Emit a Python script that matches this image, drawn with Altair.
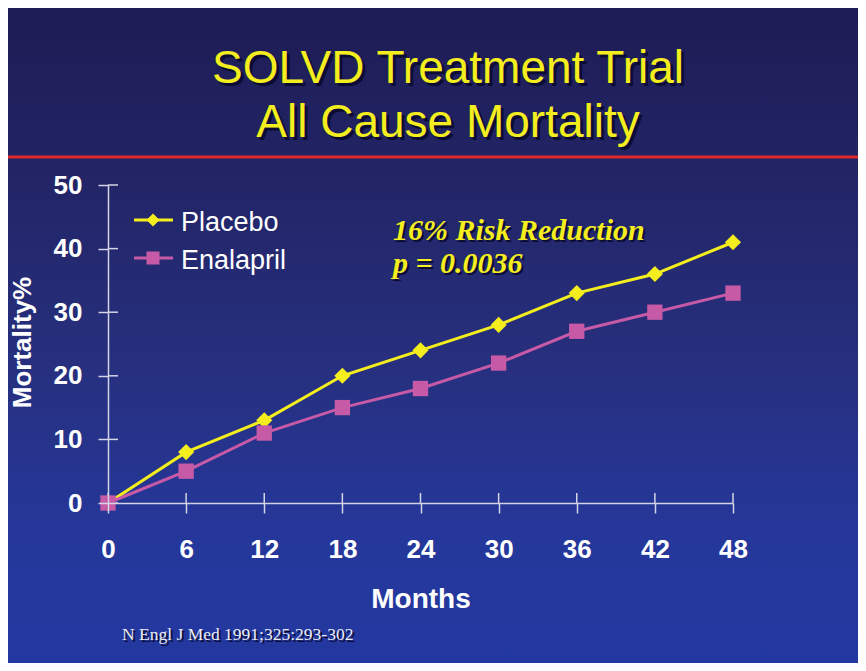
import altair as alt
import pandas as pd

# ---- data ----
months = [0, 6, 12, 18, 24, 30, 36, 42, 48]
placebo = [0, 8, 13, 20, 24, 28, 33, 36, 41]
enalapril = [0, 5, 11, 15, 18, 22, 27, 30, 33]
series = ["Placebo", "Enalapril"]
series_colors = ["#f4ee1e", "#c65aa6"]
series_shapes = ["diamond", "square"]
y_ticks = [0, 10, 20, 30, 40, 50]
title_lines = ["SOLVD Treatment Trial", "All Cause Mortality"]
note_lines = ["16% Risk Reduction", "p = 0.0036"]
citation = "N Engl J Med 1991;325:293-302"

# ---- layout ----
W, H = 625, 318
PL, PT, PR, PB = 100, 177, 125, 160
AXIS_COL = "#d4d4e4"
YELLOW = "#f4ee1e"
SHADOW = "#0c0c32"

df = pd.DataFrame({
    "Months": months * 2,
    "Mortality": placebo + enalapril,
    "Series": [series[0]] * len(months) + [series[1]] * len(months),
})
one = pd.DataFrame({"k": [0]})

xs = alt.Scale(domain=[0, 48], nice=False, zero=False)
ys = alt.Scale(domain=[0, 50], nice=False)

bg = alt.Chart(one).mark_rect(
    fill=alt.LinearGradient(
        gradient="linear", x1=0, y1=0, x2=0, y2=1,
        stops=[
            alt.GradientStop(offset=0.0, color="#1e1c55"),
            alt.GradientStop(offset=0.25, color="#222465"),
            alt.GradientStop(offset=0.55, color="#27307f"),
            alt.GradientStop(offset=0.8, color="#25379a"),
            alt.GradientStop(offset=1.0, color="#2338a0"),
        ],
    ),
    strokeWidth=0,
).encode(x=alt.value(-PL), x2=alt.value(W + PR), y=alt.value(-PT), y2=alt.value(H + PB))

red_rule = alt.Chart(one).mark_rule(color="#e02828", strokeWidth=3).encode(
    x=alt.value(-PL), x2=alt.value(W + PR), y=alt.value(-28)
)


def text_layer(txt, x, y, size, font, color, weight="normal", style="normal",
               align="left", shadow=True, off=2):
    layers = []
    kw = dict(font=font, fontSize=size, fontWeight=weight, fontStyle=style,
              align=align, baseline="alphabetic")
    if shadow:
        layers.append(alt.Chart(one).mark_text(color=SHADOW, **kw).encode(
            x=alt.value(x + off), y=alt.value(y + off), text=alt.value(txt)))
    layers.append(alt.Chart(one).mark_text(color=color, **kw).encode(
        x=alt.value(x), y=alt.value(y), text=alt.value(txt)))
    return layers


texts = []
texts += text_layer(title_lines[0], 340, -102, 46, "Liberation Sans", YELLOW, align="center", off=3)
texts += text_layer(title_lines[1], 340, -48, 46, "Liberation Sans", YELLOW, align="center", off=3)
texts += text_layer(note_lines[0], 285, 55, 30, "Liberation Serif", YELLOW, weight="bold", style="italic")
texts += text_layer(note_lines[1], 285, 88, 30, "Liberation Serif", YELLOW, weight="bold", style="italic")
texts += text_layer(citation, 14, 455, 17.5, "Liberation Serif", "#ececf4")

x_axis = alt.Axis(
    values=months, title="Months", grid=False, zindex=1,
    labelFont="Liberation Sans", labelFontSize=26, labelFontWeight="bold", labelColor="white",
    labelBaseline="alphabetic", labelPadding=44, labelFlush=False, labelOverlap=False,
    tickColor=AXIS_COL, tickSize=10, tickWidth=1.5,
    domainColor=AXIS_COL, domainWidth=1.5,
    titleFont="Liberation Sans", titleFontSize=28, titleFontWeight="bold", titleColor="white",
    titleBaseline="alphabetic", titleY=104, titleX=W / 2, titleAlign="center",
)
y_axis = alt.Axis(
    values=y_ticks, title="Mortality%", grid=False, zindex=1,
    labelFont="Liberation Sans", labelFontSize=26, labelFontWeight="bold", labelColor="white",
    labelPadding=16, labelFlush=False, labelOverlap=False, labelBaseline="middle",
    tickColor=AXIS_COL, tickSize=10, tickWidth=1.5,
    domainColor=AXIS_COL, domainWidth=1.5,
    titleFont="Liberation Sans", titleFontSize=26, titleFontWeight="bold", titleColor="white",
    titleAngle=270, titleBaseline="middle", titleAlign="center", titleX=-86, titleY=157,
)

color_enc = alt.Color("Series:N", scale=alt.Scale(domain=series, range=series_colors), legend=None)

lines = alt.Chart(df).mark_line(strokeWidth=3).encode(
    x=alt.X("Months:Q", scale=xs, axis=x_axis),
    y=alt.Y("Mortality:Q", scale=ys, axis=y_axis),
    color=color_enc,
)
points = alt.Chart(df).mark_point(filled=True, opacity=1).encode(
    x=alt.X("Months:Q", scale=xs, axis=x_axis),
    y=alt.Y("Mortality:Q", scale=ys, axis=y_axis),
    color=color_enc,
    shape=alt.Shape("Series:N", scale=alt.Scale(domain=series, range=series_shapes), legend=None),
    size=alt.Size("Series:N", scale=alt.Scale(domain=series, range=[260, 235]), legend=None),
)

xt = alt.Chart(pd.DataFrame({"Months": months})).mark_rule(color=AXIS_COL, strokeWidth=1.5).encode(
    x=alt.X("Months:Q", scale=xs, axis=x_axis), y=alt.value(H - 10), y2=alt.value(H)
)
yt = alt.Chart(pd.DataFrame({"Mortality": y_ticks})).mark_rule(color=AXIS_COL, strokeWidth=1.5).encode(
    y=alt.Y("Mortality:Q", scale=ys, axis=y_axis), x=alt.value(0), x2=alt.value(10)
)

legend_layers = []
for i, name in enumerate(series):
    ly = 35 + 38 * i
    legend_layers.append(alt.Chart(one).mark_rule(color=series_colors[i], strokeWidth=3).encode(
        x=alt.value(26), x2=alt.value(65), y=alt.value(ly)))
    legend_layers.append(alt.Chart(one).mark_point(
        filled=True, opacity=1, shape=series_shapes[i], color=series_colors[i],
        size=170).encode(x=alt.value(45), y=alt.value(ly)))
    legend_layers.append(alt.Chart(one).mark_text(
        font="Liberation Sans", fontSize=27, color="white", align="left", baseline="alphabetic").encode(
        x=alt.value(73), y=alt.value(ly + 11), text=alt.value(name)))

chart = alt.layer(
    bg, red_rule, *texts, xt, yt, lines, points, *legend_layers
).properties(
    width=W, height=H,
    padding={"left": PL, "top": PT, "right": PR, "bottom": PB},
    autosize=alt.AutoSizeParams(type="none"),
    background="#1e1c55",
).configure_view(stroke=None)

chart.save("out.html", embed_options={"renderer": "svg", "actions": False})
